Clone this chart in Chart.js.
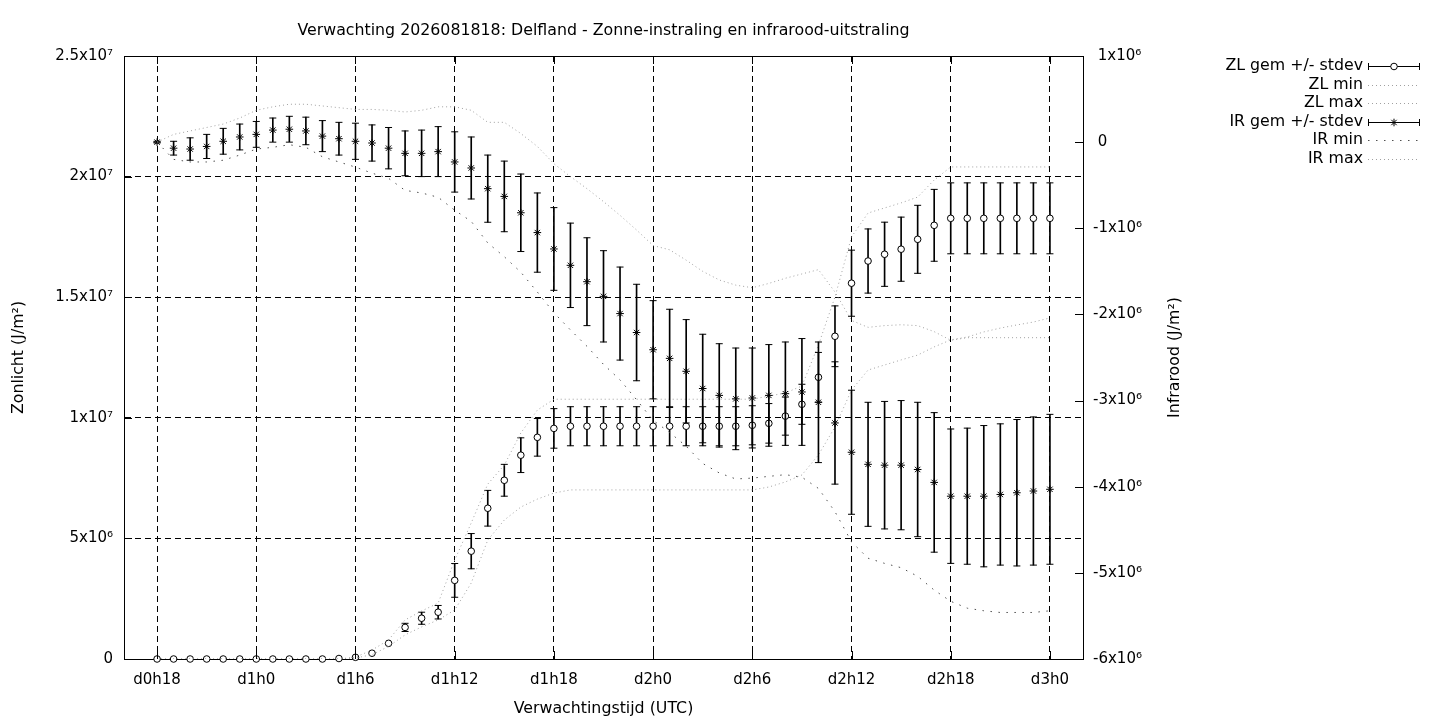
<!DOCTYPE html>
<html><head><meta charset="utf-8">
<script src="https://cdn.jsdelivr.net/npm/chart.js@4"></script>
<style>html,body{margin:0;padding:0;background:#fff;} #wrap{width:1440px;height:720px;position:relative;}</style>
</head><body><div id="wrap"><canvas id="c" width="1440" height="720"></canvas></div>
<script>
// ---- data (values in 10^6 J/m^2) ----
const hours = [18,19,20,21,22,23,24,25,26,27,28,29,30,31,32,33,34,35,36,37,38,39,40,41,42,43,44,45,46,47,48,49,50,51,52,53,54,55,56,57,58,59,60,61,62,63,64,65,66,67,68,69,70,71,72];
const xTickValues = [18,24,30,36,42,48,54,60,66,72];
const xTickLabels = ['d0h18','d1h0','d1h6','d1h12','d1h18','d2h0','d2h6','d2h12','d2h18','d3h0'];
const zlTickValues = [0,5,10,15,20,25];
const zlTickLabels = ['0','5x10⁶','1x10⁷','1.5x10⁷','2x10⁷','2.5x10⁷'];
const irTickValues = [1,0,-1,-2,-3,-4,-5,-6];
const irTickLabels = [' 1x10⁶',' 0','-1x10⁶','-2x10⁶','-3x10⁶','-4x10⁶','-5x10⁶','-6x10⁶'];

const zlMean = [0,0,0,0,0,0,0,0,0,0,0,0.02,0.07,0.24,0.65,1.31,1.69,1.94,3.26,4.47,6.25,7.41,8.45,9.19,9.56,9.65,9.65,9.65,9.65,9.65,9.65,9.65,9.65,9.65,9.65,9.65,9.69,9.77,10.07,10.56,11.68,13.38,15.58,16.50,16.78,16.99,17.40,17.98,18.27,18.27,18.27,18.27,18.27,18.27,18.27];
const zlSd = [0,0,0,0,0,0,0,0,0,0,0,0,0,0,0,0.17,0.25,0.28,0.70,0.73,0.74,0.66,0.72,0.78,0.82,0.81,0.81,0.81,0.81,0.81,0.81,0.81,0.81,0.81,0.81,0.81,0.81,0.82,0.79,0.83,1.03,1.26,1.37,1.33,1.33,1.33,1.41,1.49,1.47,1.47,1.47,1.47,1.47,1.47,1.47];
const zlMin = [0,0,0,0,0,0,0,0,0,0,0,0,0.04,0.18,0.52,1.00,1.33,1.62,2.03,3.15,4.93,5.76,6.30,6.63,6.88,7.01,7.01,7.01,7.01,7.01,7.01,7.01,7.01,7.01,7.01,7.01,7.01,7.13,7.34,7.63,8.46,9.62,11.15,11.98,12.19,12.40,12.60,12.94,13.23,13.35,13.56,13.72,13.85,13.97,14.14];
const zlMax = [0,0,0,0,0,0,0,0,0,0,0,0,0.08,0.37,0.79,1.62,1.99,2.32,4.10,5.64,7.25,8.04,9.37,10.32,10.77,10.77,10.77,10.77,10.77,10.77,10.77,10.77,10.77,10.77,10.77,10.77,10.77,10.90,11.03,11.32,13.02,15.01,17.50,18.49,18.70,18.91,19.15,19.86,20.40,20.40,20.40,20.40,20.40,20.40,20.40];

const irMean = [0.00,-0.07,-0.08,-0.05,0.01,0.06,0.09,0.14,0.15,0.13,0.07,0.04,0.01,-0.01,-0.07,-0.13,-0.13,-0.11,-0.23,-0.30,-0.54,-0.63,-0.82,-1.05,-1.24,-1.43,-1.62,-1.79,-1.99,-2.21,-2.41,-2.51,-2.66,-2.86,-2.94,-2.98,-2.97,-2.94,-2.92,-2.90,-3.02,-3.26,-3.60,-3.74,-3.75,-3.75,-3.80,-3.95,-4.11,-4.11,-4.11,-4.09,-4.07,-4.05,-4.03];
const irSd = [0.01,0.08,0.13,0.14,0.15,0.15,0.15,0.14,0.15,0.16,0.18,0.19,0.21,0.21,0.24,0.26,0.27,0.29,0.35,0.36,0.39,0.41,0.45,0.46,0.48,0.49,0.51,0.53,0.54,0.56,0.57,0.57,0.60,0.63,0.60,0.59,0.58,0.59,0.60,0.62,0.70,0.71,0.72,0.72,0.74,0.75,0.78,0.81,0.78,0.79,0.82,0.82,0.85,0.86,0.87];
const irMin = [0.00,-0.20,-0.23,-0.23,-0.21,-0.15,-0.08,-0.06,-0.03,-0.06,-0.17,-0.23,-0.29,-0.36,-0.42,-0.56,-0.59,-0.64,-0.79,-0.92,-1.17,-1.33,-1.51,-1.74,-1.98,-2.18,-2.37,-2.58,-2.76,-2.99,-3.23,-3.37,-3.53,-3.73,-3.84,-3.91,-3.90,-3.88,-3.86,-3.89,-4.02,-4.29,-4.64,-4.83,-4.89,-4.94,-5.04,-5.20,-5.33,-5.41,-5.44,-5.46,-5.46,-5.46,-5.44];
const irMax = [0.00,0.09,0.13,0.17,0.21,0.28,0.37,0.41,0.44,0.44,0.42,0.40,0.38,0.38,0.37,0.35,0.37,0.41,0.41,0.37,0.23,0.23,0.10,-0.05,-0.25,-0.40,-0.54,-0.69,-0.85,-1.02,-1.20,-1.25,-1.37,-1.50,-1.60,-1.66,-1.69,-1.64,-1.58,-1.53,-1.48,-1.74,-2.07,-2.15,-2.13,-2.12,-2.13,-2.20,-2.30,-2.27,-2.27,-2.27,-2.27,-2.27,-2.27];

const chartTitle = 'Verwachting 2026081818: Delfland - Zonne-instraling en infrarood-uitstraling';
const xTitle = 'Verwachtingstijd (UTC)';
const zlTitle = 'Zonlicht (J/m²)';
const irTitle = 'Infrarood (J/m²)';

// ---- helpers ----
const FONT = 'DejaVu Sans';
const TICK_SIZE = 15, TEXT_SIZE = 15.8;
const LIGHT = '#a0a0a0', DARK = '#505050';
const pts = arr => hours.map((h, i) => ({x: h, y: arr[i]}));
const bars = (m, s) => hours.map((h, i) => ({x: h, y: [m[i] - s[i], m[i] + s[i]]}));
const caps = (m, s) => { const o = []; hours.forEach((h, i) => { if (s[i] > 0) { o.push({x: h, y: m[i] + s[i]}); o.push({x: h, y: m[i] - s[i]}); } }); return o; };

Chart.defaults.font.family = FONT;
Chart.defaults.color = '#000';

const lineDs = (label, data, axis, color, dash, order) => ({
  type: 'line', label, data: pts(data), yAxisID: axis, borderColor: color, borderWidth: 1,
  borderDash: dash, pointRadius: 0, fill: false, tension: 0, order
});
const barDs = (label, m, s, axis, order) => ({
  type: 'bar', label, data: bars(m, s), yAxisID: axis, backgroundColor: '#000', borderWidth: 0,
  barThickness: 1, grouped: false, order
});
const capDs = (label, m, s, axis, order) => ({
  type: 'line', label, data: caps(m, s), yAxisID: axis, showLine: false, pointStyle: 'line',
  pointRadius: 3.5, pointBorderColor: '#000', pointBorderWidth: 1, order, clip: false
});

const datasets = [
  barDs('ZL stdev', zlMean, zlSd, 'y', 60),
  capDs('ZL caps', zlMean, zlSd, 'y', 60),
  {type: 'line', label: 'ZL gem +/- stdev', data: pts(zlMean), yAxisID: 'y', showLine: false, pointStyle: 'circle',
   pointRadius: 3.3, pointBackgroundColor: '#fff', pointBorderColor: '#000', pointBorderWidth: 1, order: 55, clip: false},
  lineDs('ZL min', zlMin, 'y', LIGHT, [1, 3], 50),
  lineDs('ZL max', zlMax, 'y', LIGHT, [1, 3], 50),
  barDs('IR stdev', irMean, irSd, 'y2', 40),
  capDs('IR caps', irMean, irSd, 'y2', 40),
  {type: 'line', label: 'IR gem +/- stdev', data: pts(irMean), yAxisID: 'y2', showLine: false, pointStyle: 'star',
   pointRadius: 3.8, pointBorderColor: '#000', pointBorderWidth: 1, order: 35, clip: false},
  lineDs('IR min', irMin, 'y2', DARK, [1.5, 6.5], 30),
  lineDs('IR max', irMax, 'y2', LIGHT, [1, 3], 30)
];

const legendItems = [
  {text: 'ZL gem +/- stdev', kind: 'err', marker: 'circle'},
  {text: 'ZL min', kind: 'line', color: LIGHT, dash: [1, 3]},
  {text: 'ZL max', kind: 'line', color: LIGHT, dash: [1, 3]},
  {text: 'IR gem +/- stdev', kind: 'err', marker: 'star'},
  {text: 'IR min', kind: 'line', color: DARK, dash: [1.5, 6.5]},
  {text: 'IR max', kind: 'line', color: LIGHT, dash: [1, 3]}
];

const extras = {
  id: 'extras',
  afterDatasetsDraw(chart) {
    const {ctx, chartArea: a, scales} = chart;
    ctx.save();
    ctx.strokeStyle = '#000'; ctx.lineWidth = 1; ctx.setLineDash([]);
    ctx.beginPath();
    const T = 8;
    xTickValues.forEach(v => { const px = Math.round(scales.x.getPixelForValue(v)) + 0.5;
      ctx.moveTo(px, a.bottom); ctx.lineTo(px, a.bottom - T); ctx.moveTo(px, a.top); ctx.lineTo(px, a.top + T); });
    zlTickValues.forEach(v => { const py = Math.round(scales.y.getPixelForValue(v)) + 0.5;
      ctx.moveTo(a.left, py); ctx.lineTo(a.left + T, py); });
    irTickValues.forEach(v => { const py = Math.round(scales.y2.getPixelForValue(v)) + 0.5;
      ctx.moveTo(a.right, py); ctx.lineTo(a.right - T, py); });
    ctx.stroke();
    ctx.restore();
  },
  afterDraw(chart) {
    const {ctx, chartArea: a} = chart;
    ctx.save();
    ctx.fillStyle = '#000';
    ctx.font = TEXT_SIZE + 'px "' + FONT + '"';
    ctx.textAlign = 'center'; ctx.textBaseline = 'middle';
    ctx.translate(1175, (a.top + a.bottom) / 2); ctx.rotate(-Math.PI / 2);
    ctx.fillText(irTitle, 0, 0);
    ctx.restore();

    ctx.save();
    ctx.font = TEXT_SIZE + 'px "' + FONT + '"';
    ctx.textAlign = 'right'; ctx.textBaseline = 'middle'; ctx.fillStyle = '#000';
    const x0 = 1368, x1 = 1420, xt = 1363;
    legendItems.forEach((it, i) => {
      const y = 66 + i * 18.5;
      ctx.fillText(it.text, xt, y);
      const yy = Math.round(y) + 0.5;
      if (it.kind === 'err') {
        ctx.setLineDash([]); ctx.strokeStyle = '#000'; ctx.lineWidth = 1;
        ctx.beginPath();
        ctx.moveTo(x0, yy); ctx.lineTo(x1, yy);
        ctx.moveTo(x0 + 0.5, yy - 3.5); ctx.lineTo(x0 + 0.5, yy + 3.5);
        ctx.moveTo(x1 - 0.5, yy - 3.5); ctx.lineTo(x1 - 0.5, yy + 3.5);
        ctx.stroke();
        const cx = (x0 + x1) / 2;
        if (it.marker === 'circle') {
          ctx.beginPath(); ctx.arc(cx, yy, 3.3, 0, Math.PI * 2); ctx.fillStyle = '#fff'; ctx.fill(); ctx.stroke(); ctx.fillStyle = '#000';
        } else {
          const r = 3.8, d = r * Math.SQRT1_2;
          ctx.beginPath();
          ctx.moveTo(cx - r, yy); ctx.lineTo(cx + r, yy); ctx.moveTo(cx, yy - r); ctx.lineTo(cx, yy + r);
          ctx.moveTo(cx - d, yy - d); ctx.lineTo(cx + d, yy + d); ctx.moveTo(cx - d, yy + d); ctx.lineTo(cx + d, yy - d);
          ctx.stroke();
        }
      } else {
        ctx.setLineDash(it.dash); ctx.strokeStyle = it.color; ctx.lineWidth = 1;
        ctx.beginPath(); ctx.moveTo(x0, yy); ctx.lineTo(x1, yy); ctx.stroke();
      }
    });
    ctx.restore();
  }
};

const gridCommon = {color: '#000', lineWidth: 1, drawTicks: false};
const borderCommon = {display: true, color: '#000', width: 1, dash: [6, 4]};

new Chart(document.getElementById('c'), {
  type: 'line',
  data: {datasets},
  plugins: [extras],
  options: {
    responsive: false, animation: false, devicePixelRatio: 1,
    layout: {padding: 0},
    plugins: {legend: {display: false}, title: {display: false}, tooltip: {enabled: false}},
    scales: {
      x: {
        type: 'linear', position: 'bottom', min: 16, max: 74, offset: false,
        grid: Object.assign({}, gridCommon, {offset: false}), border: borderCommon,
        afterBuildTicks: s => { s.ticks = xTickValues.map(v => ({value: v})); },
        ticks: {autoSkip: false, maxRotation: 0, padding: 12, font: {size: TICK_SIZE},
                callback: v => xTickLabels[xTickValues.indexOf(v)]},
        title: {display: true, text: xTitle, font: {size: TEXT_SIZE}, padding: {top: 0, bottom: 2}},
        afterFit: s => { s.height = 61; }
      },
      xTop: {
        type: 'linear', position: 'top', min: 16, max: 74, offset: false,
        grid: {display: false, drawOnChartArea: false, drawTicks: false},
        border: {display: true, color: '#000', width: 1},
        ticks: {display: false},
        title: {display: true, text: chartTitle, font: {size: TEXT_SIZE}, padding: {top: 21, bottom: 0}},
        afterFit: s => { s.height = 56; }
      },
      y: {
        type: 'linear', position: 'left', min: 0, max: 25,
        grid: gridCommon, border: borderCommon,
        afterBuildTicks: s => { s.ticks = zlTickValues.map(v => ({value: v})); },
        ticks: {autoSkip: false, padding: 11, font: {size: TICK_SIZE},
                callback: v => zlTickLabels[zlTickValues.indexOf(v)]},
        title: {display: true, text: zlTitle, font: {size: TEXT_SIZE}, padding: {top: 9, bottom: 0}},
        afterFit: s => { s.width = 124; }
      },
      y2: {
        type: 'linear', position: 'right', min: -6, max: 1,
        grid: {display: true, drawOnChartArea: false, drawTicks: false},
        border: {display: true, color: '#000', width: 1},
        afterBuildTicks: s => { s.ticks = irTickValues.map(v => ({value: v})); },
        ticks: {autoSkip: false, padding: 10, font: {size: TICK_SIZE},
                callback: v => irTickLabels[irTickValues.indexOf(v)]},
        title: {display: false},
        afterFit: s => { s.width = 357; }
      }
    }
  }
});
</script>
</body></html>
